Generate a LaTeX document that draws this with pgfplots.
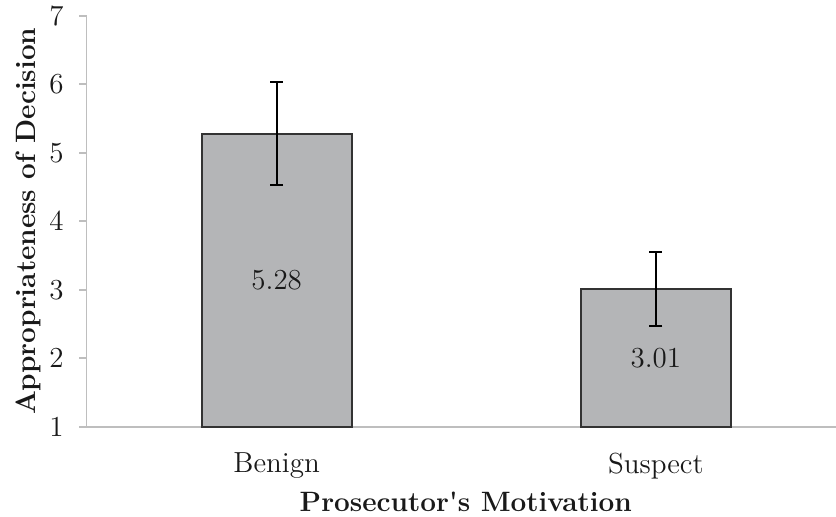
\documentclass[border=0pt]{standalone}
\usepackage{fontspec}
\usepackage{pgfplots}
\pgfplotsset{compat=1.18}
\definecolor{barfill}{RGB}{180,181,183}
\definecolor{axgray}{RGB}{190,190,190}
\begin{document}
\begin{tikzpicture}
\path[use as bounding box] (0,0) rectangle (418pt,258pt);
\begin{axis}[
  at={(43.35pt,44.65pt)}, anchor=south west,
  scale only axis, width=374.65pt, height=205.5pt,
  xmin=-0.501, xmax=1.475, ymin=1, ymax=7,
  ytick={1,2,3,4,5,6,7},
  xtick={0,1}, xticklabels={Benign,Suspect},
  axis x line=bottom, axis y line=left,
  axis line style={axgray, line width=0.8pt, -},
  x axis line style={-}, y axis line style={-},
  xtick style={draw=none},
  ytick style={axgray, line width=0.8pt},
  tick align=outside, major tick length=3.8pt,
  /pgf/number format/assume math mode=true,
  tick label style={font=\fontsize{14.5}{16}\selectfont, text=black!90},
  xticklabel style={anchor=center, yshift=-15.8pt},
  yticklabel style={anchor=center, xshift=-11.3pt},
  xlabel={\textbf{Prosecutor\textquotesingle s Motivation}},
  ylabel={\textbf{Appropriateness of Decision}},
  every axis x label/.style={at={(axis description cs:0.506,-0.182)}, anchor=center, font=\fontsize{14}{16}\selectfont, text=black!90},
  every axis y label/.style={at={(axis description cs:-0.078,0.5)}, anchor=center, rotate=90, font=\fontsize{14}{16}\selectfont, text=black!90},
  clip=false,
]
\addplot[ybar, bar width=0.396, fill=barfill, draw=black!80, line width=1pt,
  error bars/.cd, y dir=both, y explicit,
  error bar style={black, line width=1pt},
  error mark options={black, line width=1pt, mark size=3.2pt, rotate=90}]
  coordinates {(0,5.28) +- (0,0.75) (1,3.01) +- (0,0.54)};
\addplot[draw=none, mark=none, nodes near coords, point meta=explicit symbolic,
  every node near coord/.append style={anchor=center, font=\fontsize{14.5}{16}\selectfont, text=black!90}]
  table[meta=lab] {
x y lab
0 3.14 5.28
1 2.005 3.01
};
\end{axis}
\end{tikzpicture}
\end{document}
